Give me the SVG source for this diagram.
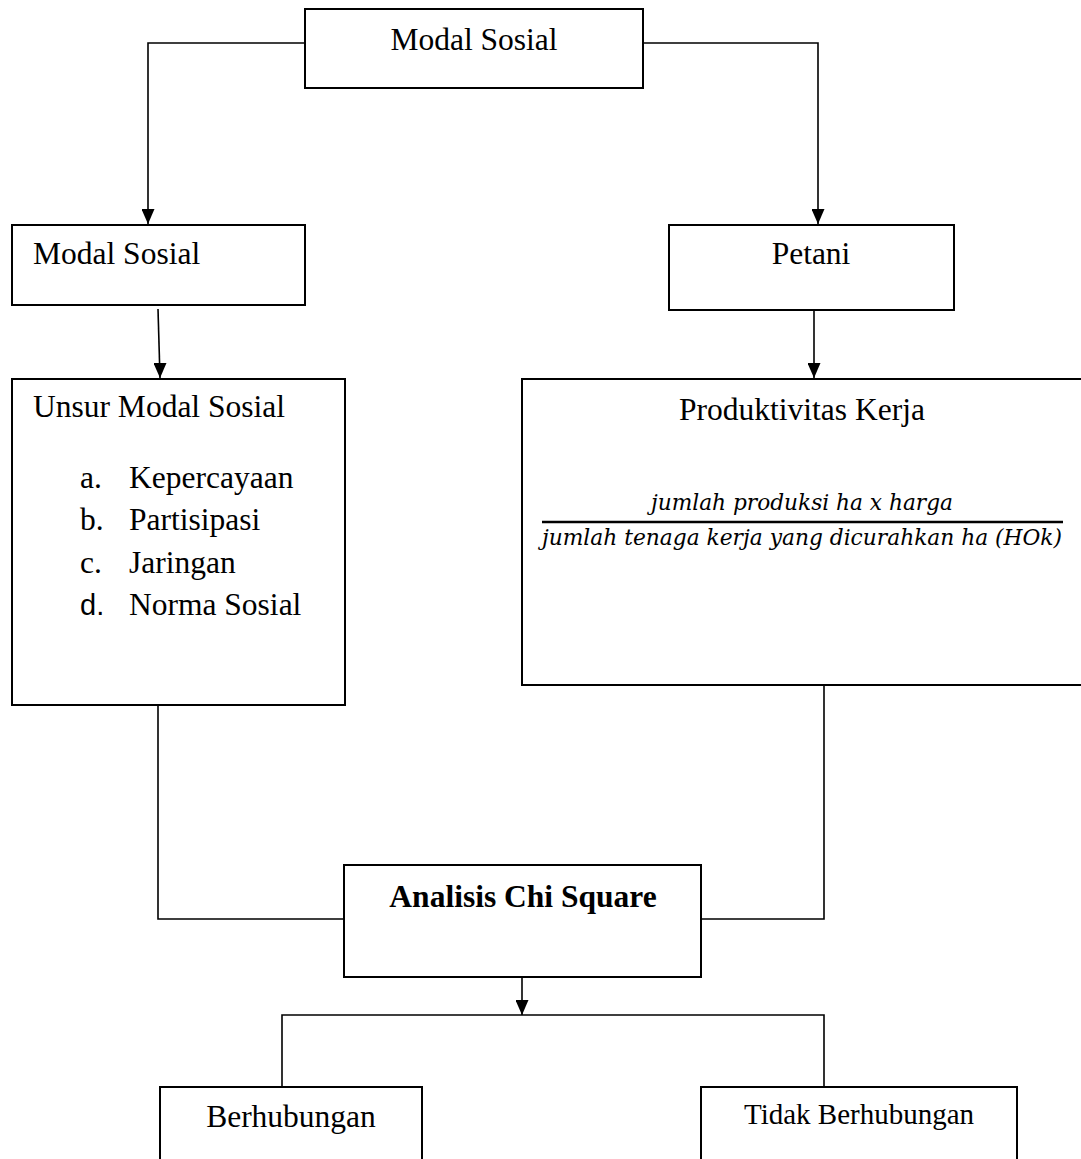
<svg xmlns="http://www.w3.org/2000/svg" width="1081" height="1159" viewBox="0 0 1081 1159">
<style>
.box{fill:#fff;stroke:#000;stroke-width:2}
.ln{fill:none;stroke:#000;stroke-width:1.6}
.t{font-family:"Liberation Serif","Times New Roman",serif;font-size:31.5px;fill:#000}
.m{font-family:"DejaVu Serif","Liberation Serif",serif;font-style:italic;font-size:22px;fill:#000}
</style>
<defs>
<marker id="ah" markerWidth="13" markerHeight="16" refX="6.5" refY="15" orient="0" markerUnits="userSpaceOnUse">
<path d="M0,0 L13,0 L6.5,15 Z" fill="#000"/>
</marker>
</defs>
<rect width="1081" height="1159" fill="#fff"/>
<g id="connectors">
<path class="ln" d="M305,43 H148 V224" marker-end="url(#ah)"/>
<path class="ln" d="M643,43 H818 V224" marker-end="url(#ah)"/>
<path class="ln" d="M158,309 L160,378" marker-end="url(#ah)"/>
<path class="ln" d="M814,310 V378" marker-end="url(#ah)"/>
<path class="ln" d="M158,705 V919 H344"/>
<path class="ln" d="M824,685 V919 H701"/>
<path class="ln" d="M522,967 V1015" marker-end="url(#ah)"/>
<path class="ln" d="M282,1087 V1015 H824 V1087"/>
</g>
<g id="n-top">
<rect class="box" x="305" y="9" width="338" height="79"/>
<text class="t" x="474" y="50" text-anchor="middle">Modal Sosial</text>
</g>
<g id="n-modal">
<rect class="box" x="12" y="225" width="293" height="80"/>
<text class="t" x="33" y="264">Modal Sosial</text>
</g>
<g id="n-petani">
<rect class="box" x="669" y="225" width="285" height="85"/>
<text class="t" x="811" y="264" text-anchor="middle">Petani</text>
</g>
<g id="n-unsur">
<rect class="box" x="12" y="379" width="333" height="326"/>
<text class="t" x="33" y="417">Unsur Modal Sosial</text>
<text class="t" x="80" y="488">a.</text><text class="t" x="129" y="488">Kepercayaan</text>
<text class="t" x="80" y="530">b.</text><text class="t" x="129" y="530">Partisipasi</text>
<text class="t" x="80" y="573">c.</text><text class="t" x="129" y="573">Jaringan</text>
<text class="t" x="80" y="615" style="font-family:'Liberation Sans',Arial,sans-serif;font-size:29px">d.</text><text class="t" x="129" y="615">Norma Sosial</text>
</g>
<g id="n-produktivitas">
<rect class="box" x="522" y="379" width="570" height="306"/>
<text class="t" x="802" y="420" text-anchor="middle">Produktivitas Kerja</text>
<text class="m" x="802" y="510" text-anchor="middle" textLength="302" lengthAdjust="spacingAndGlyphs">jumlah produksi ha x harga</text>
<line x1="542" y1="522" x2="1063" y2="522" stroke="#000" stroke-width="2.4"/>
<text class="m" x="542" y="545" textLength="520" lengthAdjust="spacingAndGlyphs">jumlah tenaga kerja yang dicurahkan ha (HOk)</text>
</g>
<g id="n-chi">
<rect class="box" x="344" y="865" width="357" height="112"/>
<text class="t" x="523" y="907" text-anchor="middle" font-weight="bold">Analisis Chi Square</text>
</g>
<g id="n-berhubungan">
<rect class="box" x="160" y="1087" width="262" height="90"/>
<text class="t" x="291" y="1127" text-anchor="middle">Berhubungan</text>
</g>
<g id="n-tidak">
<rect class="box" x="701" y="1087" width="316" height="90"/>
<text class="t" x="859" y="1124" text-anchor="middle" style="font-size:29px">Tidak Berhubungan</text>
</g>
</svg>
